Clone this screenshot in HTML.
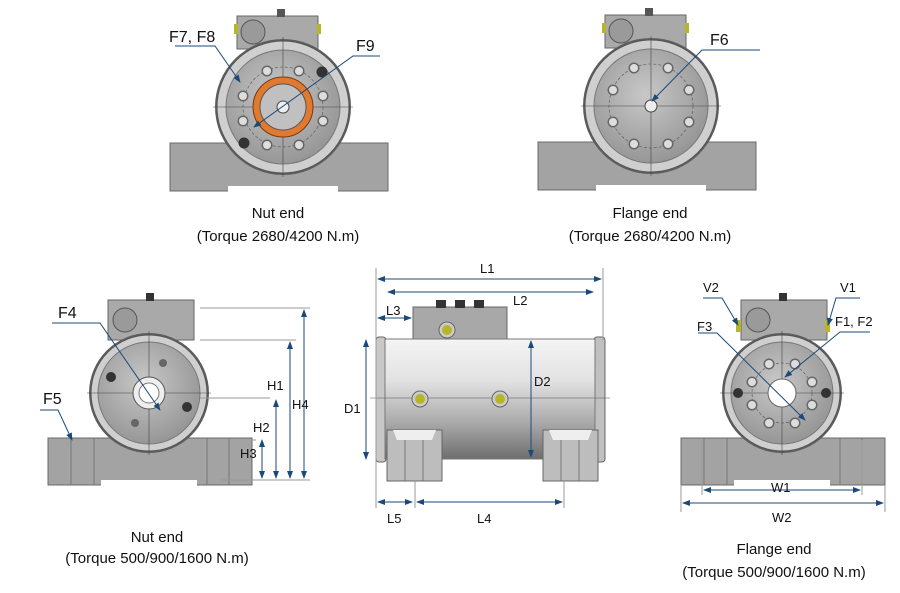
<!DOCTYPE html>
<html><head><meta charset="utf-8"><style>
html,body{margin:0;padding:0;background:#fff}
svg{display:block}
text{font-family:"Liberation Sans",sans-serif;fill:#111}
</style></head><body>
<svg width="900" height="593" viewBox="0 0 900 593" xmlns="http://www.w3.org/2000/svg">
<defs>
<linearGradient id="cyl" x1="0" y1="0" x2="0" y2="1">
<stop offset="0" stop-color="#f4f4f4"/><stop offset="0.35" stop-color="#e2e2e2"/><stop offset="0.7" stop-color="#a9a9a9"/><stop offset="1" stop-color="#6e6e6e"/></linearGradient>
<radialGradient id="disc" cx="0.45" cy="0.4" r="0.7"><stop offset="0" stop-color="#c8c8c8"/><stop offset="1" stop-color="#8e8e8e"/></radialGradient>
<marker id="a" markerWidth="8" markerHeight="6" refX="7" refY="3" orient="auto-start-reverse"><path d="M0,0 L8,3 L0,6z" fill="#1a4a7a"/></marker>
<g id="ev">
<rect x="-101" y="45" width="204" height="47" fill="#a3a3a3" stroke="#6a6a6a"/>
<rect x="-48" y="87" width="96" height="6" fill="#fff"/>
<line x1="-78" y1="45" x2="-78" y2="92" stroke="#777"/><line x1="-55" y1="45" x2="-55" y2="92" stroke="#777"/>
<line x1="58" y1="45" x2="58" y2="92" stroke="#777"/><line x1="80" y1="45" x2="80" y2="92" stroke="#777"/>
<rect x="-41" y="-93" width="86" height="40" fill="#a9a9a9" stroke="#666"/>
<circle cx="-24" cy="-73" r="12" fill="#9a9a9a" stroke="#555"/>
<rect x="-3" y="-100" width="8" height="8" fill="#333"/>
<circle r="60" fill="#5e5e5e"/>
<circle r="58" fill="#cfcfcf" stroke="#555"/>
<circle r="51" fill="url(#disc)" stroke="#777"/>
<line x1="-62" y1="0" x2="62" y2="0" stroke="#444" stroke-width="0.6"/>
<line x1="0" y1="-62" x2="0" y2="62" stroke="#444" stroke-width="0.6"/>
</g>
<g id="evt">
<rect x="-113" y="36" width="218" height="48" fill="#a3a3a3" stroke="#6a6a6a"/>
<rect x="-55" y="79" width="110" height="6" fill="#fff"/>
<rect x="-46" y="-91" width="81" height="33" fill="#a9a9a9" stroke="#666"/>
<circle cx="-30" cy="-75" r="12" fill="#9a9a9a" stroke="#555"/>
<rect x="-6" y="-98" width="8" height="8" fill="#555"/>
<rect x="-49" y="-83" width="4" height="10" fill="#b9b52a"/><rect x="34" y="-83" width="4" height="10" fill="#b9b52a"/>
<circle r="68" fill="#5e5e5e"/>
<circle r="66" fill="#cfcfcf" stroke="#555"/>
<circle r="57" fill="url(#disc)" stroke="#777"/>
<line x1="-70" y1="0" x2="70" y2="0" stroke="#444" stroke-width="0.6"/>
<line x1="0" y1="-70" x2="0" y2="70" stroke="#444" stroke-width="0.6"/>
</g>
<g id="h"><circle r="5.5" fill="#666"/><circle r="4" fill="#ddd"/></g>
</defs>

<!-- Top-left -->
<g transform="translate(283,107)">
<use href="#evt"/>
<circle r="40" fill="none" stroke="#555" stroke-dasharray="3,2" stroke-width="0.6"/>
<circle r="30" fill="#e07a30" stroke="#7a3a10"/><circle r="23" fill="#c0c0c0" stroke="#555"/>
<circle r="6" fill="#eee" stroke="#444"/>
<use href="#h" x="-16" y="-36"/><use href="#h" x="16" y="-36"/><use href="#h" x="-40" y="-11"/><use href="#h" x="40" y="-11"/>
<use href="#h" x="-40" y="14"/><use href="#h" x="40" y="14"/><use href="#h" x="-16" y="38"/><use href="#h" x="16" y="38"/>
<circle cx="39" cy="-35" r="5.5" fill="#333"/><circle cx="-39" cy="36" r="5.5" fill="#333"/>
</g>
<polyline points="175,46 215,46 240,82" fill="none" stroke="#1a4a7a" marker-end="url(#a)"/>
<polyline points="380,56 353,56 254,127" fill="none" stroke="#1a4a7a" marker-end="url(#a)"/>
<text x="169" y="42" font-size="16">F7, F8</text>
<text x="356" y="51" font-size="16">F9</text>
<text x="278" y="218" font-size="15" text-anchor="middle">Nut end</text>
<text x="278" y="241" font-size="15" text-anchor="middle">(Torque 2680/4200 N.m)</text>

<!-- Top-right -->
<g transform="translate(651,106)">
<use href="#evt"/>
<circle r="42" fill="none" stroke="#555" stroke-dasharray="3,2" stroke-width="0.6"/>
<circle r="6" fill="#eee" stroke="#444"/>
<use href="#h" x="-17" y="-38"/><use href="#h" x="17" y="-38"/><use href="#h" x="-38" y="-16"/><use href="#h" x="38" y="-16"/>
<use href="#h" x="-38" y="16"/><use href="#h" x="38" y="16"/><use href="#h" x="-17" y="38"/><use href="#h" x="17" y="38"/>
</g>
<polyline points="760,50 702,50 652,101" fill="none" stroke="#1a4a7a" marker-end="url(#a)"/>
<text x="710" y="45" font-size="16">F6</text>
<text x="650" y="218" font-size="15" text-anchor="middle">Flange end</text>
<text x="650" y="241" font-size="15" text-anchor="middle">(Torque 2680/4200 N.m)</text>

<!-- Bottom-left -->
<g transform="translate(149,393)">
<use href="#ev"/>
<circle r="16" fill="#eee" stroke="#555"/><circle r="10" fill="#fff" stroke="#777"/>
<circle cx="-38" cy="-16" r="5" fill="#333"/><circle cx="38" cy="14" r="5" fill="#333"/>
<circle cx="-14" cy="30" r="4" fill="#666"/><circle cx="14" cy="-30" r="4" fill="#666"/>
</g>
<polyline points="52,323 100,323 160,410" fill="none" stroke="#1a4a7a" marker-end="url(#a)"/>
<polyline points="40,410 58,410 72,440" fill="none" stroke="#1a4a7a" marker-end="url(#a)"/>
<text x="58" y="318" font-size="16">F4</text>
<text x="43" y="404" font-size="16">F5</text>
<g stroke="#1a4a7a" fill="none">
<line x1="200" y1="308" x2="310" y2="308" stroke="#999"/><line x1="200" y1="340" x2="296" y2="340" stroke="#999"/>
<line x1="200" y1="398" x2="270" y2="398" stroke="#999"/><line x1="250" y1="440" x2="256" y2="440" stroke="#999"/>
<line x1="220" y1="480" x2="310" y2="480" stroke="#999"/>
<line x1="304" y1="310" x2="304" y2="478" marker-start="url(#a)" marker-end="url(#a)"/>
<line x1="290" y1="342" x2="290" y2="478" marker-start="url(#a)" marker-end="url(#a)"/>
<line x1="276" y1="400" x2="276" y2="478" marker-start="url(#a)" marker-end="url(#a)"/>
<line x1="262" y1="440" x2="262" y2="478" marker-start="url(#a)" marker-end="url(#a)"/>
</g>
<text x="267" y="390" font-size="13">H1</text>
<text x="253" y="432" font-size="13">H2</text>
<text x="240" y="458" font-size="13">H3</text>
<text x="292" y="409" font-size="13">H4</text>
<text x="157" y="542" font-size="15" text-anchor="middle">Nut end</text>
<text x="157" y="563" font-size="15" text-anchor="middle">(Torque 500/900/1600 N.m)</text>

<!-- Middle side view -->
<rect x="413" y="307" width="94" height="36" fill="#a8a8a8" stroke="#666"/>
<rect x="436" y="300" width="10" height="8" fill="#333"/><rect x="455" y="300" width="10" height="8" fill="#333"/><rect x="474" y="300" width="10" height="8" fill="#333"/>
<rect x="376" y="337" width="10" height="125" rx="3" fill="#c8c8c8" stroke="#666"/>
<rect x="594" y="337" width="11" height="125" rx="3" fill="#c0c0c0" stroke="#666"/>
<rect x="385" y="339" width="210" height="120" fill="url(#cyl)" stroke="#777"/>
<path d="M387,430 h55 v51 h-55z M543,430 h55 v51 h-55z" fill="#bdbdbd" stroke="#666"/>
<path d="M393,430 h43 l-4,10 h-35z M549,430 h43 l-4,10 h-35z" fill="#eee"/>
<line x1="405" y1="440" x2="405" y2="481" stroke="#777"/><line x1="423" y1="440" x2="423" y2="481" stroke="#777"/>
<line x1="561" y1="440" x2="561" y2="481" stroke="#777"/><line x1="579" y1="440" x2="579" y2="481" stroke="#777"/>
<line x1="370" y1="398" x2="610" y2="398" stroke="#555" stroke-width="0.5"/>
<g><circle cx="447" cy="330" r="8" fill="#ccc" stroke="#666"/><circle cx="447" cy="330" r="5" fill="#b9b52a"/>
<circle cx="420" cy="399" r="8" fill="#ccc" stroke="#666"/><circle cx="420" cy="399" r="5" fill="#b9b52a"/>
<circle cx="500" cy="399" r="8" fill="#ccc" stroke="#666"/><circle cx="500" cy="399" r="5" fill="#b9b52a"/></g>
<g stroke="#1a4a7a" fill="none">
<line x1="376" y1="268" x2="376" y2="508" stroke="#999"/><line x1="603" y1="268" x2="603" y2="340" stroke="#999"/>
<line x1="378" y1="279" x2="601" y2="279" marker-start="url(#a)" marker-end="url(#a)"/>
<line x1="388" y1="292" x2="593" y2="292" marker-start="url(#a)" marker-end="url(#a)"/>
<line x1="378" y1="318" x2="411" y2="318" marker-start="url(#a)" marker-end="url(#a)"/>
<line x1="366" y1="340" x2="366" y2="459" marker-start="url(#a)" marker-end="url(#a)"/>
<line x1="531" y1="341" x2="531" y2="457" marker-start="url(#a)" marker-end="url(#a)"/>
<line x1="378" y1="502" x2="412" y2="502" marker-start="url(#a)" marker-end="url(#a)"/>
<line x1="417" y1="502" x2="562" y2="502" marker-start="url(#a)" marker-end="url(#a)"/>
<line x1="415" y1="480" x2="415" y2="508" stroke="#999"/><line x1="564" y1="480" x2="564" y2="508" stroke="#999"/>
</g>
<text x="480" y="273" font-size="13">L1</text>
<text x="513" y="305" font-size="13">L2</text>
<text x="386" y="315" font-size="13">L3</text>
<text x="344" y="413" font-size="13">D1</text>
<text x="534" y="386" font-size="13">D2</text>
<text x="387" y="523" font-size="13">L5</text>
<text x="477" y="523" font-size="13">L4</text>

<!-- Bottom-right -->
<g transform="translate(782,393)">
<use href="#ev"/>
<circle r="30" fill="none" stroke="#555" stroke-dasharray="3,2" stroke-width="0.6"/>
<circle r="14" fill="#fff" stroke="#666"/>
<use href="#h" x="-13" y="-29"/><use href="#h" x="13" y="-29"/><use href="#h" x="-30" y="-11"/><use href="#h" x="30" y="-11"/>
<use href="#h" x="-30" y="12"/><use href="#h" x="30" y="12"/><use href="#h" x="-13" y="30"/><use href="#h" x="13" y="30"/>
<circle cx="-44" cy="0" r="5" fill="#333"/><circle cx="44" cy="0" r="5" fill="#333"/>
</g>
<rect x="736" y="320" width="5" height="12" fill="#b9b52a"/><rect x="825" y="320" width="5" height="12" fill="#b9b52a"/>
<g stroke="#1a4a7a" fill="none">
<polyline points="703,298 722,298 738,325" marker-end="url(#a)"/>
<polyline points="860,298 836,298 828,325" marker-end="url(#a)"/>
<polyline points="698,333 717,333 805,420" marker-end="url(#a)"/>
<polyline points="870,332 840,332 785,377" marker-end="url(#a)"/>
<line x1="702" y1="440" x2="702" y2="495" stroke="#999"/><line x1="862" y1="440" x2="862" y2="495" stroke="#999"/>
<line x1="681" y1="485" x2="681" y2="512" stroke="#999"/><line x1="885" y1="485" x2="885" y2="512" stroke="#999"/>
<line x1="704" y1="490" x2="860" y2="490" marker-start="url(#a)" marker-end="url(#a)"/>
<line x1="683" y1="503" x2="883" y2="503" marker-start="url(#a)" marker-end="url(#a)"/>
</g>
<text x="703" y="292" font-size="13">V2</text>
<text x="840" y="292" font-size="13">V1</text>
<text x="697" y="331" font-size="13">F3</text>
<text x="835" y="326" font-size="13">F1, F2</text>
<text x="771" y="492" font-size="13">W1</text>
<text x="772" y="522" font-size="13">W2</text>
<text x="774" y="554" font-size="15" text-anchor="middle">Flange end</text>
<text x="774" y="577" font-size="15" text-anchor="middle">(Torque 500/900/1600 N.m)</text>
</svg>
</body></html>
